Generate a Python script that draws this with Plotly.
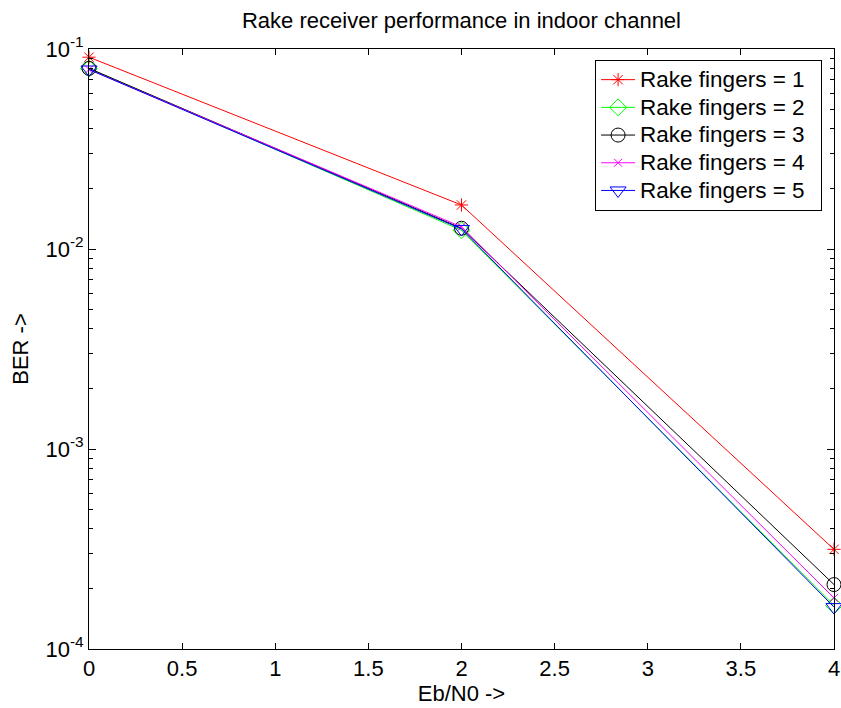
import plotly.graph_objects as go

x_vals = [0, 2, 4]
ber_f1 = [0.091, 0.0166, 3.15e-4]
ber_f2 = [0.080, 0.0124, 1.65e-4]
ber_f3 = [0.080, 0.0127, 2.1e-4]
ber_f4 = [0.079, 0.0129, 1.8e-4]
ber_f5 = [0.079, 0.0126, 1.62e-4]
names = ["Rake fingers = 1", "Rake fingers = 2", "Rake fingers = 3",
         "Rake fingers = 4", "Rake fingers = 5"]
series = [ber_f1, ber_f2, ber_f3, ber_f4, ber_f5]
colors = ["#FF0000", "#00FF00", "#000000", "#FF00FF", "#0000FF"]
symbols = ["asterisk-open", "diamond-open", "circle-open", "x-thin-open", "triangle-down-open"]
sizes = [11, 13, 14, 8, 14]

minor_vals = [m * 10.0 ** e for e in range(-4, -1) for m in range(2, 10)]

fig = go.Figure()
for i in range(5):
    fig.add_trace(go.Scatter(
        x=x_vals, y=series[i],
        name='<span style="font-size:22.5px">' + names[i] + '</span>\u00a0\u00a0',
        mode="lines+markers",
        line=dict(color=colors[i], width=1),
        marker=dict(symbol=symbols[i], size=sizes[i], color=colors[i],
                    line=dict(color=colors[i], width=1)),
        cliponaxis=False))

font = "Arial, Liberation Sans, sans-serif"
fig.update_layout(
    width=841, height=708,
    paper_bgcolor="white", plot_bgcolor="white",
    margin=dict(l=89, r=7, t=49, b=59),
    title=dict(text="Rake receiver performance in indoor channel",
               x=(89 + 834) / 2 / 841, xanchor="center", y=1 - 20 / 708, yanchor="middle",
               font=dict(family=font, size=22, color="black")),
    font=dict(family=font, size=22, color="black"),
    legend=dict(x=0.984, xanchor="right", y=0.982, yanchor="top",
                bordercolor="black", borderwidth=1, bgcolor="white",
                font=dict(family=font, size=19, color="black"),
                tracegroupgap=0, itemwidth=34),
    showlegend=True,
)
fig.update_xaxes(
    range=[0, 4], tickvals=[0, 0.5, 1, 1.5, 2, 2.5, 3, 3.5, 4],
    ticktext=["0", "0.5", "1", "1.5", "2", "2.5", "3", "3.5", "4"],
    ticks="inside", ticklen=6, tickcolor="black", mirror="ticks",
    showline=True, linecolor="black", linewidth=1, showgrid=False, zeroline=False,
    tickfont=dict(family=font, size=22, color="black"), automargin=False,
    title=dict(text="Eb/N0 ->", font=dict(family=font, size=22, color="black"), standoff=4),
)
fig.update_yaxes(
    type="log", range=[-4, -1],
    tickvals=[1e-4, 1e-3, 1e-2, 1e-1],
    ticktext=["10<sup>-4</sup>", "10<sup>-3</sup>", "10<sup>-2</sup>", "10<sup>-1</sup>"],
    ticks="inside", ticklen=7, tickcolor="black", mirror="ticks",
    minor=dict(ticks="inside", ticklen=4, tickcolor="black", showgrid=False,
               tickmode="array", tickvals=minor_vals),
    showline=True, linecolor="black", linewidth=1, showgrid=False, zeroline=False,
    tickfont=dict(family=font, size=22, color="black"), automargin=False,
    title=dict(text="BER ->", font=dict(family=font, size=22, color="black"), standoff=10),
)
fig.write_html("out.html")
